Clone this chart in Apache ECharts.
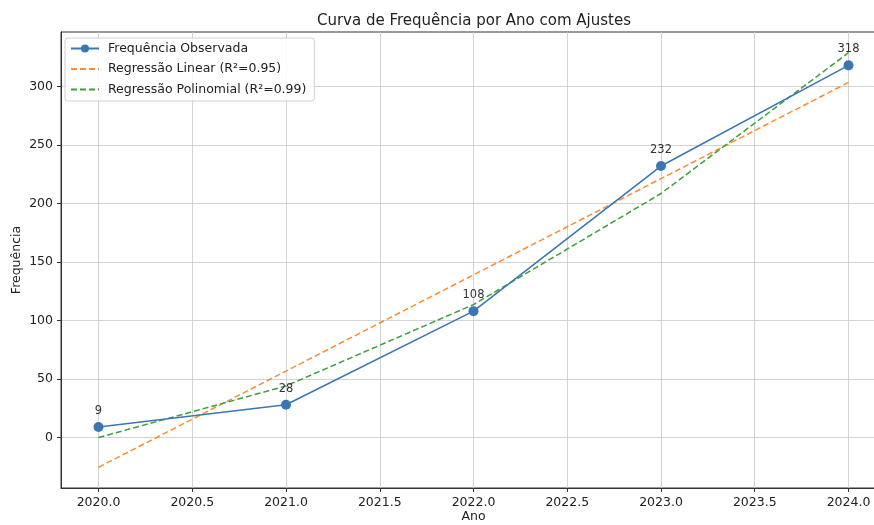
<!DOCTYPE html>
<html>
<head>
<meta charset="utf-8">
<script src="https://cdn.jsdelivr.net/npm/echarts@6/dist/echarts.min.js"></script>
<style>
  html, body { margin: 0; padding: 0; background: #fff; }
  #chart { width: 874px; height: 525px; }
</style>
</head>
<body>
<div id="chart"></div>
<script>
// Annual frequency with linear and quadratic fits
const years = [2020, 2021, 2022, 2023, 2024];
const observed = [9, 28, 108, 232, 318];
const linearFit = [-25.4, 56.8, 139.0, 221.2, 303.4];
const polyFit = [0.0, 44.1, 113.6, 208.5, 328.8];
const xTicks = [2020, 2020.5, 2021, 2021.5, 2022, 2022.5, 2023, 2023.5, 2024];
const yTicks = [0, 50, 100, 150, 200, 250, 300];

const FONT = 'DejaVu Sans';
const pairs = vals => years.map((y, i) => [y, vals[i]]);

const chart = echarts.init(document.getElementById('chart'), null, { renderer: 'canvas' });

const axisCommon = {
  axisLine: { show: true, onZero: false, lineStyle: { color: '#333', width: 1 } },
  axisTick: { show: true, inside: false, length: 4, lineStyle: { color: '#333', width: 1 } },
  splitLine: { show: true, lineStyle: { color: '#c8c8c8', width: 0.8 } },
  nameMoveOverlap: false,
  nameTextStyle: { fontFamily: FONT, fontSize: 12.5, color: '#222' }
};

// dashed legend entries: hide the marker, keep the line sample
const hiddenMarker = { opacity: 0 };

chart.setOption({
  animation: false,
  backgroundColor: '#fff',
  title: {
    text: 'Curva de Frequência por Ano com Ajustes',
    left: 469, top: 9, textAlign: 'center',
    textStyle: { fontFamily: FONT, fontSize: 15, fontWeight: 'normal', color: '#222' }
  },
  grid: {
    left: 61, top: 32, width: 825, height: 456,
    outerBoundsMode: 'none', containLabel: false,
    show: true, borderColor: '#333', borderWidth: 1, backgroundColor: 'transparent'
  },
  legend: {
    orient: 'vertical', left: 65, top: 38,
    padding: [4, 8, 5, 5], itemGap: 7.5, itemWidth: 28, itemHeight: 10,
    backgroundColor: 'rgba(255,255,255,0.85)', borderColor: '#d0d0d0', borderWidth: 1, borderRadius: 3,
    textStyle: { fontFamily: FONT, fontSize: 12.5, color: '#222', padding: [0, 0, 0, 4] },
    data: [
      { name: 'Frequência Observada' },
      { name: 'Regressão Linear (R²=0.95)', itemStyle: hiddenMarker },
      { name: 'Regressão Polinomial (R²=0.99)', itemStyle: hiddenMarker }
    ]
  },
  xAxis: Object.assign({}, axisCommon, {
    type: 'value', min: 2019.8, max: 2024.2,
    name: 'Ano', nameLocation: 'middle', nameGap: 22,
    axisTick: Object.assign({}, axisCommon.axisTick, { customValues: xTicks }),
    axisLabel: {
      customValues: xTicks, margin: 8,
      fontFamily: FONT, fontSize: 12.5, color: '#222',
      formatter: v => v.toFixed(1)
    }
  }),
  yAxis: Object.assign({}, axisCommon, {
    type: 'value', min: -43.1, max: 346.5,
    name: 'Frequência', nameLocation: 'middle', nameGap: 38, nameRotate: 90,
    axisTick: Object.assign({}, axisCommon.axisTick, { customValues: yTicks }),
    axisLabel: {
      customValues: yTicks, margin: 8,
      fontFamily: FONT, fontSize: 12.5, color: '#222'
    }
  }),
  series: [
    {
      name: 'Frequência Observada', type: 'line', data: pairs(observed),
      symbol: 'circle', symbolSize: 10, z: 3,
      itemStyle: { color: '#3a77b2' },
      lineStyle: { color: '#3a77b2', width: 1.6 },
      label: {
        show: true, position: 'top', distance: 5,
        fontFamily: FONT, fontSize: 11.5, color: '#333',
        formatter: p => String(p.value[1])
      }
    },
    {
      name: 'Regressão Linear (R²=0.95)', type: 'line', data: pairs(linearFit),
      symbol: 'none', z: 2,
      itemStyle: { color: '#ff8c2e' },
      lineStyle: { color: '#ff8c2e', width: 1.5, type: [6, 3] }
    },
    {
      name: 'Regressão Polinomial (R²=0.99)', type: 'line', data: pairs(polyFit),
      symbol: 'none', z: 2,
      itemStyle: { color: '#3aa03a' },
      lineStyle: { color: '#3aa03a', width: 1.5, type: [6, 3] }
    }
  ]
});
</script>
</body>
</html>
